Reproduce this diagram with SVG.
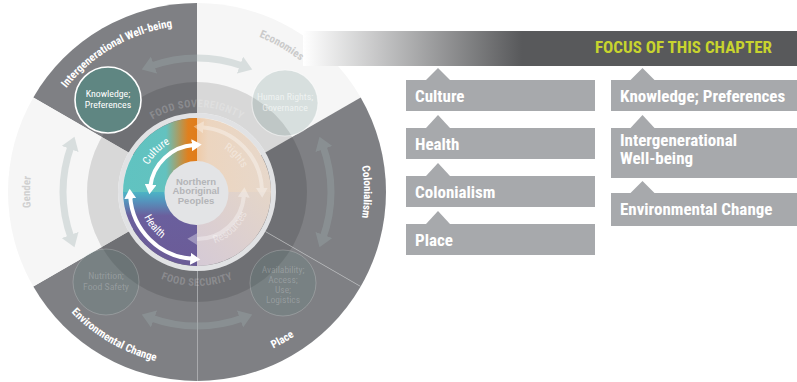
<svg xmlns="http://www.w3.org/2000/svg" width="797" height="382" viewBox="0 0 797 382">
<style>
.f{font-family:"Liberation Sans Narrow","Arial Narrow","Roboto Condensed","DejaVu Sans Condensed","Liberation Sans",sans-serif}
.w{font-family:"Liberation Sans",Arial,sans-serif}
.dark{fill:#7f8084}
.light{fill:#f6f6f6}
.olbl{font-size:11px;font-weight:bold}
.box{fill:#a7a9ac}
.btxt{font-size:17px;font-weight:bold;fill:#fff}
.sep{stroke:#b4b5b8;stroke-width:.8;fill:none}
.cir{font-size:9.8px;text-anchor:middle}
.mid{text-anchor:middle}
</style>
<defs>
<path id="p_ig" d="M30,192 A167,167 0 0,1 280.5,47.37"/>
<path id="p_ec" d="M113.5,47.37 A167,167 0 0,1 364,192"/>
<path id="p_co" d="M280.5,47.37 A167,167 0 0,1 280.5,336.63"/>
<path id="p_ge" d="M113.5,336.63 A167,167 0 0,1 113.5,47.37"/>
<path id="p_pl" d="M110,342.69 A174,174 0 0,0 371,192"/>
<path id="p_en" d="M23,192 A174,174 0 0,0 284,342.69"/>
<path id="p_sov" d="M123.39,149.5 A85,85 0 0,1 270.61,149.5"/>
<path id="p_sec" d="M115.59,239 A94,94 0 0,0 278.41,239"/>
<path id="p_cul" d="M143.39,206.36 A55.5,55.5 0 0,1 211.36,138.39"/>
<path id="p_hea" d="M142.38,171.03 A58.5,58.5 0 0,0 206.15,249.78"/>
<path id="p_rig" d="M185.53,142.31 A51,51 0 0,1 245.77,206.91"/>
<path id="p_res" d="M181.06,244.12 A54.5,54.5 0 0,0 250.1,179.74"/>
<linearGradient id="gHdr" gradientUnits="userSpaceOnUse" x1="303" y1="0" x2="522" y2="0">
<stop offset="0" stop-color="#ffffff"/><stop offset="1" stop-color="#58595b"/>
</linearGradient>
<linearGradient id="gTL" gradientUnits="userSpaceOnUse" x1="123" y1="0" x2="197" y2="0">
<stop offset="0" stop-color="#60c3c1"/><stop offset="0.58" stop-color="#63c2bf"/><stop offset="0.88" stop-color="#e0801e"/><stop offset="1" stop-color="#e07c1a"/>
</linearGradient>
<linearGradient id="gBL" gradientUnits="userSpaceOnUse" x1="0" y1="192" x2="0" y2="266">
<stop offset="0" stop-color="#4cb4c5"/><stop offset="0.13" stop-color="#5592bc"/><stop offset="0.32" stop-color="#6a5f9d"/><stop offset="1" stop-color="#6b5b97"/>
</linearGradient>
<linearGradient id="gTR" gradientUnits="userSpaceOnUse" x1="197" y1="0" x2="271" y2="0">
<stop offset="0" stop-color="#efcba8"/><stop offset="0.15" stop-color="#ecd5bf"/><stop offset="1" stop-color="#e7d8cb"/>
</linearGradient>
<linearGradient id="gBR" gradientUnits="userSpaceOnUse" x1="271" y1="192" x2="197" y2="266">
<stop offset="0" stop-color="#e5d6c8"/><stop offset="1" stop-color="#d5cad6"/>
</linearGradient>
<marker id="mBig" markerUnits="userSpaceOnUse" markerWidth="16" markerHeight="18" refX="3" refY="9" orient="auto-start-reverse">
<path d="M0,0 L13,9 L0,18 Z" fill="#9eb0b0"/>
</marker>
<marker id="mW" markerUnits="userSpaceOnUse" markerWidth="12" markerHeight="12" refX="2" refY="6" orient="auto-start-reverse">
<path d="M0,0 L10,6 L0,12 Z" fill="#ffffff"/>
</marker>
</defs>

<g id="sector-intergenerational">
<path class="dark" d="M197,192 L33.32,97.5 A189,189 0 0,1 197,3 Z"/>
</g>
<g id="sector-economies">
<path class="light" d="M197,192 L197,3 A189,189 0 0,1 360.68,97.5 Z"/>
</g>
<g id="sector-colonialism">
<path class="dark" d="M197,192 L360.68,97.5 A189,189 0 0,1 360.68,286.5 Z"/>
</g>
<g id="sector-place">
<path class="dark" d="M197,192 L360.68,286.5 A189,189 0 0,1 197,381 Z"/>
</g>
<g id="sector-environmental">
<path class="dark" d="M197,192 L197,381 A189,189 0 0,1 33.32,286.5 Z"/>
</g>
<g id="sector-gender">
<path class="light" d="M197,192 L33.32,286.5 A189,189 0 0,1 33.32,97.5 Z"/>
</g>

<g id="header">
<rect x="303" y="31" width="494" height="35" fill="url(#gHdr)"/>
<text class="f" x="772" y="53" font-size="17" font-weight="bold" fill="#c8d42e" text-anchor="end">FOCUS OF THIS CHAPTER</text>
</g>

<g id="food-ring">
<circle cx="197" cy="192" r="94.5" fill="none" stroke="#000" stroke-opacity="0.12" stroke-width="31"/>
<line class="sep" x1="265.4" y1="231.5" x2="360.68" y2="286.5"/>
<line class="sep" x1="197.5" y1="271" x2="197.5" y2="381"/>
<text class="f" font-size="10.5" font-weight="bold" fill="#fff" fill-opacity="0.2" letter-spacing="0.4"><textPath href="#p_sov" startOffset="50%" text-anchor="middle">FOOD SOVEREIGNTY</textPath></text>
<text class="f" font-size="10.5" font-weight="bold" fill="#fff" fill-opacity="0.2" letter-spacing="0.4"><textPath href="#p_sec" startOffset="50%" text-anchor="middle">FOOD SECURITY</textPath></text>
</g>

<g id="sector-labels">
<text class="f olbl" fill="#fff"><textPath href="#p_ig" startOffset="50%" text-anchor="middle">Intergenerational Well-being</textPath></text>
<text class="f olbl" fill="#cbcbcb"><textPath href="#p_ec" startOffset="50%" text-anchor="middle">Economies</textPath></text>
<text class="f olbl" fill="#fff"><textPath href="#p_co" startOffset="50%" text-anchor="middle">Colonialism</textPath></text>
<text class="f olbl" fill="#d0d0d0"><textPath href="#p_ge" startOffset="50%" text-anchor="middle">Gender</textPath></text>
<text class="f olbl" fill="#fff"><textPath href="#p_pl" startOffset="50%" text-anchor="middle">Place</textPath></text>
<text class="f olbl" fill="#fff"><textPath href="#p_en" startOffset="50%" text-anchor="middle">Environmental Change</textPath></text>
</g>

<g id="connectors">
<g opacity="0.33" fill="none" stroke="#9eb0b0" stroke-width="7">
<path d="M151.17,66.08 A134,134 0 0,1 242.83,66.08" marker-start="url(#mBig)" marker-end="url(#mBig)"/>
<path d="M322.92,146.17 A134,134 0 0,1 322.92,237.83" marker-start="url(#mBig)" marker-end="url(#mBig)"/>
<path d="M242.83,317.92 A134,134 0 0,1 151.17,317.92" marker-start="url(#mBig)" marker-end="url(#mBig)"/>
<path d="M71.08,237.83 A134,134 0 0,1 71.08,146.17" marker-start="url(#mBig)" marker-end="url(#mBig)"/>
</g>
</g>

<g id="node-knowledge">
<circle cx="108" cy="100" r="33" fill="#5f8682" stroke="#fff" stroke-width="1.6"/>
<text class="f cir" fill="#fff"><tspan x="108" y="97">Knowledge;</tspan><tspan x="108" y="108.3">Preferences</tspan></text>
</g>
<g id="node-human-rights">
<circle cx="285" cy="103" r="33" fill="#5f8682" fill-opacity="0.2" stroke="#fff" stroke-opacity="0.5" stroke-width="1.2"/>
<text class="f cir" fill="#fff" fill-opacity="0.6"><tspan x="285" y="100">Human Rights;</tspan><tspan x="285" y="111.3">Governance</tspan></text>
</g>
<g id="node-nutrition">
<circle cx="106" cy="282" r="33" fill="#5f8682" fill-opacity="0.2" stroke="#fff" stroke-opacity="0.2" stroke-width="1"/>
<text class="f cir" fill="#fff" fill-opacity="0.22"><tspan x="106" y="279">Nutrition;</tspan><tspan x="106" y="290.3">Food Safety</tspan></text>
</g>
<g id="node-availability">
<circle cx="283" cy="283" r="33" fill="#5f8682" fill-opacity="0.2" stroke="#fff" stroke-opacity="0.2" stroke-width="1"/>
<text class="f mid" font-size="9.5" fill="#fff" fill-opacity="0.22"><tspan x="283" y="272.5">Availability;</tspan><tspan x="283" y="282.5">Access;</tspan><tspan x="283" y="292.5">Use;</tspan><tspan x="283" y="302.5">Logistics</tspan></text>
</g>

<g id="node-core">
<circle cx="197" cy="192" r="76.5" fill="none" stroke="#e1e2e4" stroke-width="5"/>
<path d="M197,192 L123,192 A74,74 0 0,1 197,118 Z" fill="url(#gTL)"/>
<path d="M197,192 L123,192 A74,74 0 0,0 197,266 Z" fill="url(#gBL)"/>
<path d="M197,192 L197,118 A74,74 0 0,1 271,192 Z" fill="url(#gTR)"/>
<path d="M197,192 L271,192 A74,74 0 0,1 197,266 Z" fill="url(#gBR)"/>
<g opacity="0.35" fill="none" stroke="#fff" stroke-width="4">
<path d="M201.54,127.16 A65,65 0 0,1 261.96,189.73" marker-start="url(#mW)" marker-end="url(#mW)"/>
<path d="M195.36,238.97 A47,47 0 0,0 243.89,195.28" marker-start="url(#mW)" marker-end="url(#mW)"/>
</g>
<g fill="none" stroke="#fff" stroke-width="4">
<path d="M150.35,186.27 A47,47 0 0,1 193.72,145.11" marker-start="url(#mW)" marker-end="url(#mW)"/>
<path d="M192.33,258.84 A67,67 0 0,1 130.16,196.67" marker-start="url(#mW)" marker-end="url(#mW)"/>
</g>
<text class="f" font-size="11" fill="#fff"><textPath href="#p_cul" startOffset="50%" text-anchor="middle">Culture</textPath></text>
<text class="f" font-size="11" fill="#fff"><textPath href="#p_hea" startOffset="50%" text-anchor="middle">Health</textPath></text>
<text class="f" font-size="11" fill="#fff" fill-opacity="0.4"><textPath href="#p_rig" startOffset="50%" text-anchor="middle">Rights</textPath></text>
<text class="f" font-size="11" fill="#fff" fill-opacity="0.4"><textPath href="#p_res" startOffset="50%" text-anchor="middle">Resources</textPath></text>
<circle cx="196.5" cy="193" r="32" fill="#e3e4e6"/>
<text class="w mid" font-size="9.5" font-weight="bold" fill="#b4b5b8"><tspan x="196" y="184.5">Northern</tspan><tspan x="196" y="194.3">Aboriginal</tspan><tspan x="196" y="204">Peoples</tspan></text>
</g>

<g id="box-culture">
<path class="box" d="M426,80 L438,68 L450,80 Z"/>
<rect class="box" x="406" y="80" width="189" height="31"/>
<text class="f btxt" x="415" y="101.5">Culture</text>
</g>
<g id="box-health">
<path class="box" d="M426,128 L438,115 L450,128 Z"/>
<rect class="box" x="406" y="128" width="189" height="31"/>
<text class="f btxt" x="415" y="149.5">Health</text>
</g>
<g id="box-colonialism">
<path class="box" d="M426,176 L438,163 L450,176 Z"/>
<rect class="box" x="406" y="176" width="189" height="31"/>
<text class="f btxt" x="415" y="197.5">Colonialism</text>
</g>
<g id="box-place">
<path class="box" d="M426,224 L438,211 L450,224 Z"/>
<rect class="box" x="406" y="224" width="189" height="31"/>
<text class="f btxt" x="415" y="245.5">Place</text>
</g>
<g id="box-knowledge">
<path class="box" d="M630.5,80 L642.5,68 L654.5,80 Z"/>
<rect class="box" x="611" y="80" width="186" height="31"/>
<text class="f btxt" x="620" y="101.5">Knowledge; Preferences</text>
</g>
<g id="box-intergenerational">
<path class="box" d="M630.5,128 L642.5,115 L654.5,128 Z"/>
<rect class="box" x="611" y="128" width="186" height="50"/>
<text class="f btxt"><tspan x="620" y="146">Intergenerational</tspan><tspan x="620" y="163.5">Well-being</tspan></text>
</g>
<g id="box-environmental">
<path class="box" d="M630.5,193 L642.5,181 L654.5,193 Z"/>
<rect class="box" x="611" y="193" width="186" height="33"/>
<text class="f btxt" x="620" y="214.5">Environmental Change</text>
</g>
</svg>
